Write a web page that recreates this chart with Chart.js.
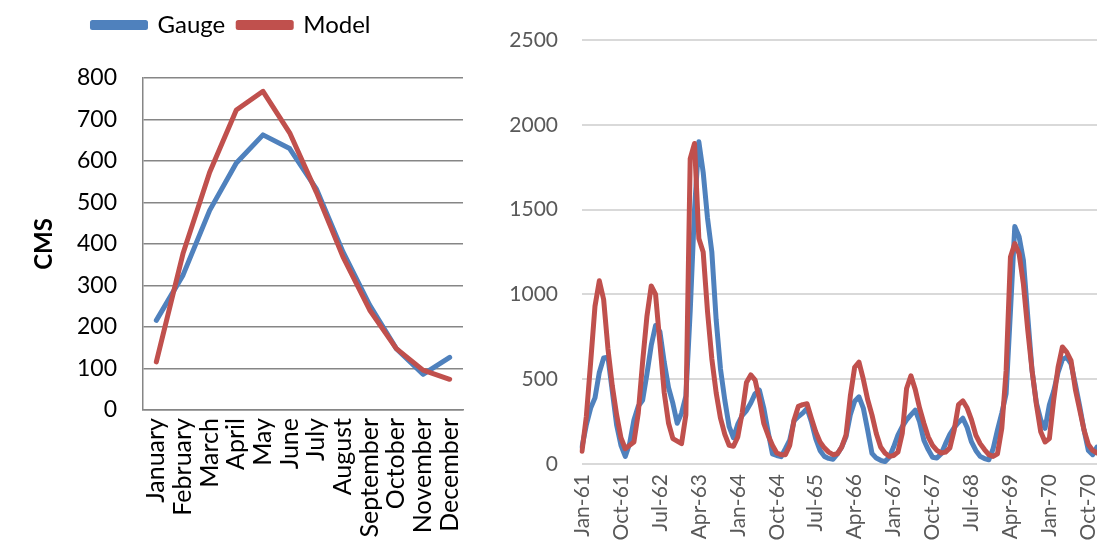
<!DOCTYPE html>
<html>
<head>
<meta charset="utf-8">
<script src="https://cdn.jsdelivr.net/npm/chart.js@4"></script>
<style>
  html, body { margin: 0; padding: 0; background: #fff; }
  #wrap { position: relative; width: 1097px; height: 546px; }
  #left { position: absolute; left: 0; top: 0; width: 480px; height: 546px; }
  #right { position: absolute; left: 480px; top: 0; width: 617px; height: 546px; }
</style>
</head>
<body>
<div id="wrap">
  <div id="left"><canvas id="monthlyChart"></canvas></div>
  <div id="right"><canvas id="seriesChart"></canvas></div>
</div>
<script>
// Gauge vs Model flows (CMS)
const MONTHS = ['January', 'February', 'March', 'April', 'May', 'June', 'July',
  'August', 'September', 'October', 'November', 'December'];
const GAUGE_MONTHLY = [216, 325, 481, 595, 663, 630, 533, 381, 253, 148, 86, 127];
const MODEL_MONTHLY = [116, 377, 573, 723, 768, 668, 525, 369, 241, 148, 96, 74];

// monthly series Jan-61 .. Dec-70
const MONTH_ABBR = ['Jan', 'Feb', 'Mar', 'Apr', 'May', 'Jun', 'Jul', 'Aug', 'Sep', 'Oct', 'Nov', 'Dec'];
const YEARS = ['61', '62', '63', '64', '65', '66', '67', '68', '69', '70'];
const TICK_LABELS = ['Jan-61', 'Oct-61', 'Jul-62', 'Apr-63', 'Jan-64', 'Oct-64', 'Jul-65',
  'Apr-66', 'Jan-67', 'Oct-67', 'Jul-68', 'Apr-69', 'Jan-70', 'Oct-70'];
const TICK_EVERY = 9;

const GAUGE_SERIES = [
  100, 230, 330, 390, 540, 625, 630, 430, 230, 110, 45, 120,
  260, 340, 375, 530, 700, 817, 780, 600, 450, 357, 240, 300,
  400, 900, 1500, 1900, 1720, 1450, 1250, 850, 560, 376, 220, 155,
  235, 285, 315, 360, 415, 435, 330, 190, 60, 50, 43, 90,
  141, 255, 280, 300, 327, 250, 150, 80, 45, 33, 28, 60,
  100, 160, 290, 370, 396, 330, 200, 63, 35, 22, 14, 40,
  100, 170, 220, 260, 290, 318, 250, 140, 85, 40, 35, 60,
  120, 175, 215, 245, 270, 215, 130, 80, 45, 32, 25, 90,
  200, 300, 415, 900, 1400, 1340, 1200, 870, 550, 360, 260, 210,
  350, 430, 540, 615, 630, 590, 470, 340, 200, 80, 55, 100
];
const MODEL_SERIES = [
  75, 280, 600, 930, 1080, 970, 680, 460, 290, 155, 90, 110,
  130, 300, 600, 870, 1050, 1000, 710, 420, 240, 150, 135, 120,
  290, 1800, 1890, 1330, 1250, 900, 620, 420, 270, 175, 110, 105,
  160, 300, 480, 525, 495, 380, 240, 170, 110, 65, 55, 55,
  110, 260, 340, 350, 355, 270, 190, 130, 95, 70, 55, 60,
  100, 170, 400, 570, 600, 500, 380, 290, 180, 100, 65, 45,
  50, 70, 180, 445, 520, 440, 330, 240, 160, 110, 80, 65,
  70, 95, 200, 350, 372, 330, 260, 170, 120, 85, 55, 45,
  60, 210, 550, 1220, 1300, 1240, 1060, 790, 550, 350, 190, 130,
  150, 380, 570, 690, 660, 610, 440, 320, 200, 115, 80, 65
];

const BLUE = '#4f81bd';
const RED = '#c0504d';
const FONT = 'Lato, "Open Sans", sans-serif';

const seriesLabels = [];
YEARS.forEach(y => MONTH_ABBR.forEach(m => seriesLabels.push(m + '-' + y)));

// keeps the legend block a fixed height so the plot starts where it should
const legendHeight = h => ({
  id: 'legendHeight',
  beforeInit(chart) {
    const fit = chart.legend.fit;
    chart.legend.fit = function () { fit.call(this); this.height = h; };
  }
});

function lineSet(label, data, color, order) {
  return {
    label, data, order,
    borderColor: color, backgroundColor: color,
    borderWidth: 5, pointRadius: 0, tension: 0,
    borderJoinStyle: 'round', borderCapStyle: 'round',
  };
}

new Chart(document.getElementById('monthlyChart'), {
  type: 'line',
  data: {
    labels: MONTHS,
    datasets: [
      lineSet('Gauge', GAUGE_MONTHLY, BLUE, 1),
      lineSet('Model', MODEL_MONTHLY, RED, 0),
    ],
  },
  options: {
    responsive: true, maintainAspectRatio: false, animation: false,
    layout: { padding: { left: 0, right: 17, top: 0, bottom: 0 } },
    plugins: {
      legend: {
        position: 'top',
        labels: {
          boxWidth: 53, boxHeight: 5, padding: 13, color: '#000',
          font: { family: FONT, size: 24 },
          sort: (a, b) => a.datasetIndex - b.datasetIndex,
        },
      },
      tooltip: { enabled: false },
    },
    scales: {
      x: {
        offset: true,
        grid: { display: false, drawTicks: false },
        border: { color: '#868686', width: 1.5 },
        ticks: { autoSkip: false, minRotation: 90, maxRotation: 90, padding: 8, color: '#000',
          font: { family: FONT, size: 25 } },
        afterFit: s => { s.height = 136; s.paddingLeft = 0; s.paddingRight = 0; },
      },
      y: {
        min: 0, max: 800,
        grid: { color: '#868686', lineWidth: 1.5, drawTicks: false },
        border: { color: '#868686', width: 1.5 },
        ticks: { stepSize: 100, padding: 26, color: '#000', font: { family: FONT, size: 23 } },
        title: { display: true, text: 'CMS', color: '#000', padding: { top: 30, bottom: 0 },
          font: { family: FONT, size: 24, weight: 'bold' } },
        afterFit: s => { s.width = 143; },
      },
    },
  },
  plugins: [legendHeight(78)],
});

new Chart(document.getElementById('seriesChart'), {
  type: 'line',
  data: {
    labels: seriesLabels,
    datasets: [
      lineSet('Gauge', GAUGE_SERIES, BLUE, 1),
      lineSet('Model', MODEL_SERIES, RED, 0),
    ],
  },
  options: {
    responsive: true, maintainAspectRatio: false, animation: false,
    layout: { padding: { left: 0, right: 0, top: 40, bottom: 0 } },
    plugins: { legend: { display: false }, tooltip: { enabled: false } },
    scales: {
      x: {
        offset: false,
        grid: { display: false, drawTicks: false },
        border: { display: false },
        ticks: {
          autoSkip: false, minRotation: 90, maxRotation: 90, padding: 10, color: '#595959',
          font: { family: FONT, size: 21 },
          callback: (v, i) => (i % TICK_EVERY === 0 ? TICK_LABELS[i / TICK_EVERY] : ''),
        },
        afterFit: s => { s.height = 82; s.paddingLeft = 0; s.paddingRight = 0; },
      },
      y: {
        min: 0, max: 2500,
        grid: { color: '#d9d9d9', lineWidth: 2, drawTicks: false },
        border: { display: false },
        ticks: { stepSize: 500, padding: 24, color: '#595959', font: { family: FONT, size: 21 },
          callback: v => String(v) },
        afterFit: s => { s.width = 102; },
      },
    },
  },
});
</script>
</body>
</html>
